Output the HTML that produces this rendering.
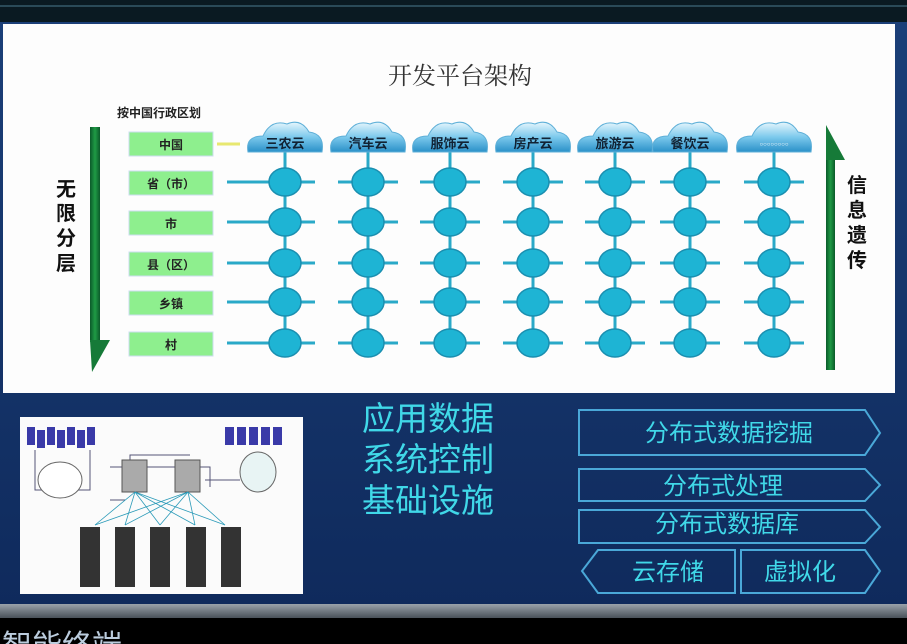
<!DOCTYPE html>
<html><head><meta charset="utf-8"><style>
html,body{margin:0;padding:0;background:#000;}
body{width:907px;height:644px;overflow:hidden;position:relative;font-family:"Liberation Sans","Noto Sans CJK SC",sans-serif;}
</style></head><body>
<svg width="907" height="644" viewBox="0 0 907 644" xmlns="http://www.w3.org/2000/svg" style="position:absolute;left:0;top:0">
<defs>
<linearGradient id="bg" x1="0" y1="0" x2="0" y2="1"><stop offset="0" stop-color="#1b3f78"/><stop offset="1" stop-color="#0f2a5c"/></linearGradient>
<linearGradient id="bar" x1="0" y1="0" x2="0" y2="1"><stop offset="0" stop-color="#9aa2aa"/><stop offset="1" stop-color="#4a525a"/></linearGradient>
<linearGradient id="cl" x1="0" y1="0" x2="0" y2="1"><stop offset="0" stop-color="#e6f6fd"/><stop offset="0.5" stop-color="#7cc9ec"/><stop offset="1" stop-color="#2a90c8"/></linearGradient>
<linearGradient id="gar" x1="0" y1="0" x2="1" y2="0"><stop offset="0" stop-color="#0b5a2a"/><stop offset="0.5" stop-color="#1f9a45"/><stop offset="1" stop-color="#0b5a2a"/></linearGradient>
</defs>
<rect x="0" y="0" width="907" height="644" fill="#03080c"/>
<rect x="0" y="0" width="907" height="22" fill="#0a1a22"/>
<rect x="0" y="5" width="907" height="2" fill="#2a4a58"/>
<rect x="0" y="22" width="907" height="590" fill="url(#bg)"/>
<rect x="3" y="24" width="892" height="369" fill="#fdfdfd"/>
<rect x="0" y="604" width="907" height="14" fill="url(#bar)"/>
<rect x="0" y="618" width="907" height="26" fill="#000"/>
<text x="2" y="656" font-size="30" fill="#bcd">智能终端</text>

<text x="460" y="84" font-size="24" fill="#333" text-anchor="middle" font-family="Liberation Serif,Noto Serif CJK SC,serif">开发平台架构</text>
<text x="117" y="117" font-size="12" font-weight="bold" fill="#222">按中国行政区划</text>

<rect x="90" y="127" width="10" height="215" fill="url(#gar)"/>
<polygon points="90,340 110,340 92,372" fill="#167a38"/>
<g font-size="20" font-weight="bold" fill="#111" text-anchor="middle">
<text x="66" y="196">无</text><text x="66" y="220">限</text><text x="66" y="245">分</text><text x="66" y="270">层</text>
</g>
<rect x="826" y="152" width="9" height="218" fill="url(#gar)"/>
<polygon points="826,125 826,160 845,160" fill="#167a38"/>
<g font-size="20" font-weight="bold" fill="#111" text-anchor="middle">
<text x="857" y="192">信</text><text x="857" y="217">息</text><text x="857" y="242">遗</text><text x="857" y="267">传</text>
</g>

<g font-size="12" font-weight="bold" fill="#222" text-anchor="middle">
<rect x="129" y="132" width="84" height="24" fill="#8eef8e" stroke="#cde"/><text x="171" y="149">中国</text>
<rect x="129" y="171" width="84" height="24" fill="#8eef8e" stroke="#cde"/><text x="171" y="188">省（市）</text>
<rect x="129" y="211" width="84" height="24" fill="#8eef8e" stroke="#cde"/><text x="171" y="228">市</text>
<rect x="129" y="252" width="84" height="24" fill="#8eef8e" stroke="#cde"/><text x="171" y="269">县（区）</text>
<rect x="129" y="291" width="84" height="24" fill="#8eef8e" stroke="#cde"/><text x="171" y="308">乡镇</text>
<rect x="129" y="332" width="84" height="24" fill="#8eef8e" stroke="#cde"/><text x="171" y="349">村</text>
</g>
<line x1="217" y1="144" x2="240" y2="144" stroke="#e8e870" stroke-width="3"/>

<g stroke="#2aa9c8" stroke-width="3">
<line x1="285" y1="150" x2="285" y2="343"/><line x1="368" y1="150" x2="368" y2="343"/><line x1="450" y1="150" x2="450" y2="343"/><line x1="533" y1="150" x2="533" y2="343"/><line x1="615" y1="150" x2="615" y2="343"/><line x1="690" y1="150" x2="690" y2="343"/><line x1="774" y1="150" x2="774" y2="343"/>
</g>
<g id="rows" stroke="#2aa9c8" stroke-width="3"></g>
<g id="nodes"></g>
<g id="clouds"></g>

<rect x="20" y="417" width="283" height="177" fill="#fbfbfb"/>
<g fill="#3a3aa8">
<rect x="27" y="427" width="8" height="18"/><rect x="37" y="430" width="8" height="18"/><rect x="47" y="427" width="8" height="18"/><rect x="57" y="430" width="8" height="18"/><rect x="67" y="427" width="8" height="18"/><rect x="77" y="430" width="8" height="18"/><rect x="87" y="427" width="8" height="18"/>
<rect x="225" y="427" width="9" height="18"/><rect x="237" y="427" width="9" height="18"/><rect x="249" y="427" width="9" height="18"/><rect x="261" y="427" width="9" height="18"/><rect x="273" y="427" width="9" height="18"/>
</g>
<g stroke="#557" fill="none" stroke-width="1">
<path d="M35,450 V490 H60"/><path d="M90,450 V490 H70"/>
<path d="M110,467 H210 V487"/><path d="M130,467 V455 H190"/><path d="M110,500 H125"/><path d="M205,480 H240"/>
</g>
<ellipse cx="60" cy="480" rx="22" ry="18" fill="#fff" stroke="#666"/>
<ellipse cx="258" cy="472" rx="18" ry="20" fill="#e8f4f4" stroke="#666"/>
<rect x="122" y="460" width="25" height="32" fill="#aaa" stroke="#555"/>
<rect x="175" y="460" width="25" height="32" fill="#aaa" stroke="#555"/>
<g stroke="#2a9ab8" stroke-width="0.8">
<line x1="135" y1="492" x2="95" y2="525"/><line x1="135" y1="492" x2="125" y2="525"/><line x1="135" y1="492" x2="160" y2="525"/><line x1="135" y1="492" x2="195" y2="525"/><line x1="135" y1="492" x2="225" y2="525"/>
<line x1="188" y1="492" x2="95" y2="525"/><line x1="188" y1="492" x2="125" y2="525"/><line x1="188" y1="492" x2="160" y2="525"/><line x1="188" y1="492" x2="195" y2="525"/><line x1="188" y1="492" x2="225" y2="525"/>
</g>
<g fill="#333"><rect x="80" y="527" width="20" height="60"/><rect x="115" y="527" width="20" height="60"/><rect x="150" y="527" width="20" height="60"/><rect x="186" y="527" width="20" height="60"/><rect x="221" y="527" width="20" height="60"/></g>

<g font-size="33" fill="#40d8e8" text-anchor="middle">
<text x="428" y="430">应用数据</text><text x="428" y="471">系统控制</text><text x="428" y="512">基础设施</text>
</g>
<g fill="none" stroke="#4aa8d8" stroke-width="2">
<polygon points="579,410 865,410 880,433 865,455 579,455"/>
<polygon points="579,469 865,469 880,485 865,501 579,501"/>
<polygon points="579,510 865,510 880,527 865,543 579,543"/>
<polygon points="598,550 735,550 735,593 598,593 582,571"/>
<polygon points="741,550 865,550 880,571 865,593 741,593"/>
</g>
<g font-size="24" fill="#40d8e8" text-anchor="middle">
<text x="729" y="441">分布式数据挖掘</text>
<text x="723" y="494">分布式处理</text>
<text x="727" y="532">分布式数据库</text>
<text x="668" y="580">云存储</text>
<text x="800" y="580">虚拟化</text>
</g>
</svg>
<script>
var NS='http://www.w3.org/2000/svg';
function el(parent,tag,attrs,txt){var e=document.createElementNS(NS,tag);for(var k in attrs)e.setAttribute(k,attrs[k]);if(txt)e.textContent=txt;parent.appendChild(e);return e;}
var cx=[285,368,450,533,615,690,774],ry=[182,222,263,302,343];
var g=document.getElementById('rows'),n=document.getElementById('nodes'),c=document.getElementById('clouds');
ry.forEach(function(y){cx.forEach(function(x,i){var a=i==0?227:x-30;el(g,'line',{x1:a,y1:y,x2:x+30,y2:y});});});
ry.forEach(function(y){cx.forEach(function(x){el(n,'ellipse',{cx:x,cy:y,rx:16,ry:14,fill:'#1eb4d4',stroke:'#1a8fb0','stroke-width':1.5});});});
var names=['三农云','汽车云','服饰云','房产云','旅游云','餐饮云',''];
cx.forEach(function(x,i){
el(c,'path',{d:'M'+(x-37)+',152 Q'+(x-40)+',136 '+(x-22)+',136 Q'+(x-14)+',119 '+(x+2)+',124 Q'+(x+16)+',118 '+(x+24)+',132 Q'+(x+40)+',134 '+(x+37)+',152 Z',fill:'url(#cl)',stroke:'#5fb0d8'});
if(names[i])el(c,'text',{x:x,y:148,'font-size':13,'font-weight':'bold',fill:'#123','text-anchor':'middle'},names[i]);
else el(c,'text',{x:x,y:146,'font-size':6,fill:'#fff','text-anchor':'middle'},'○○○○○○○○');
});
</script>
</body></html>
